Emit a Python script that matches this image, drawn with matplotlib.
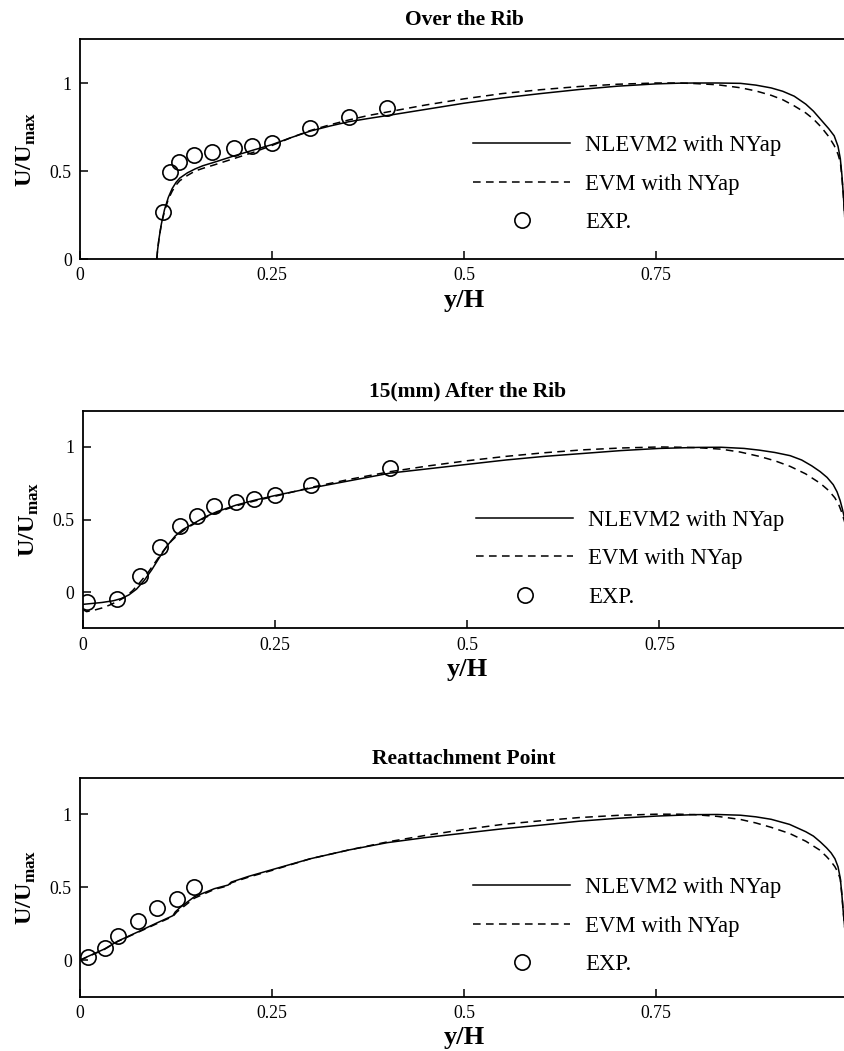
import matplotlib
matplotlib.use("Agg")
import matplotlib.pyplot as plt

plt.rcParams['font.family'] = ['Liberation Serif', 'DejaVu Serif']
plt.rcParams['mathtext.fontset'] = 'custom'
plt.rcParams['mathtext.rm'] = 'Liberation Serif'
plt.rcParams['mathtext.bf'] = 'Liberation Serif:bold'

titles = ["Over the Rib", "15(mm) After the Rib", "Reattachment Point"]
legend_labels = ["NLEVM2 with NYap", "EVM with NYap", "EXP."]
x_ticks = [0, 0.25, 0.5, 0.75]
x_tick_labels = ["0", "0.25", "0.5", "0.75"]
y_ticks = [0, 0.5, 1]
y_tick_labels = ["0", "0.5", "1"]

# panel 1 - over the rib
x1_nl = [0.100, 0.101, 0.103, 0.106, 0.110, 0.115, 0.120, 0.125, 0.130, 0.140, 0.150, 0.160, 0.175, 0.200,
         0.225, 0.250, 0.275, 0.300, 0.325, 0.350, 0.375, 0.400, 0.450, 0.500, 0.550, 0.600, 0.650, 0.700,
         0.750, 0.780, 0.800, 0.830, 0.860, 0.880, 0.900, 0.915, 0.930, 0.945, 0.955, 0.965, 0.975, 0.982,
         0.987, 0.990, 0.992, 0.994, 0.996, 0.998, 1.000]
y1_nl = [0.00, 0.05, 0.12, 0.20, 0.28, 0.35, 0.40, 0.435, 0.46, 0.49, 0.512, 0.53, 0.55, 0.585,
         0.618, 0.65, 0.69, 0.727, 0.755, 0.78, 0.798, 0.815, 0.85, 0.885, 0.915, 0.94, 0.963, 0.982,
         0.995, 0.999, 1.0, 1.0, 0.998, 0.988, 0.972, 0.953, 0.925, 0.88, 0.84, 0.79, 0.74, 0.70,
         0.64, 0.57, 0.48, 0.36, 0.22, 0.10, 0.0]
x1_ev = [0.100, 0.101, 0.103, 0.106, 0.110, 0.115, 0.120, 0.125, 0.130, 0.140, 0.150, 0.160, 0.175, 0.200,
         0.225, 0.250, 0.275, 0.300, 0.325, 0.350, 0.375, 0.400, 0.450, 0.500, 0.550, 0.600, 0.650, 0.700,
         0.750, 0.780, 0.800, 0.830, 0.860, 0.880, 0.900, 0.915, 0.930, 0.945, 0.955, 0.965, 0.975, 0.982,
         0.987, 0.990, 0.992, 0.994, 0.996, 0.998, 1.000]
y1_ev = [0.00, 0.05, 0.12, 0.20, 0.27, 0.34, 0.385, 0.42, 0.445, 0.475, 0.50, 0.515, 0.535, 0.57,
         0.605, 0.645, 0.69, 0.73, 0.762, 0.79, 0.815, 0.835, 0.875, 0.91, 0.94, 0.962, 0.98, 0.993,
         1.0, 1.0, 0.997, 0.99, 0.973, 0.955, 0.93, 0.905, 0.87, 0.83, 0.795, 0.75, 0.695, 0.645,
         0.595, 0.55, 0.47, 0.36, 0.22, 0.10, 0.0]
x1_exp = [0.108, 0.117, 0.129, 0.148, 0.172, 0.200, 0.224, 0.250, 0.300, 0.350, 0.400]
y1_exp = [0.267, 0.492, 0.553, 0.590, 0.607, 0.628, 0.643, 0.661, 0.742, 0.804, 0.859]

# panel 2 - 15mm after the rib
x2_nl = [0.000, 0.010, 0.025, 0.040, 0.050, 0.060, 0.070, 0.080, 0.090, 0.100, 0.110, 0.120, 0.130, 0.140,
         0.150, 0.160, 0.175, 0.200, 0.225, 0.250, 0.300, 0.350, 0.400, 0.450, 0.500, 0.550, 0.600, 0.650,
         0.700, 0.750, 0.800, 0.830, 0.860, 0.880, 0.900, 0.920, 0.935, 0.948, 0.959, 0.968, 0.976, 0.981,
         0.985, 0.988, 0.991, 0.994, 0.997, 1.000]
y2_nl = [-0.085, -0.08, -0.072, -0.06, -0.045, -0.02, 0.02, 0.08, 0.155, 0.24, 0.32, 0.385, 0.43, 0.46,
         0.49, 0.52, 0.555, 0.60, 0.635, 0.665, 0.72, 0.77, 0.82, 0.85, 0.88, 0.91, 0.935, 0.955,
         0.975, 0.99, 0.997, 0.998, 0.99, 0.978, 0.962, 0.94, 0.91, 0.87, 0.83, 0.79, 0.74, 0.69,
         0.63, 0.57, 0.50, 0.37, 0.19, 0.0]
x2_ev = [0.000, 0.005, 0.015, 0.025, 0.035, 0.045, 0.055, 0.065, 0.075, 0.085, 0.095, 0.105, 0.115, 0.125,
         0.135, 0.150, 0.160, 0.175, 0.200, 0.225, 0.250, 0.300, 0.350, 0.400, 0.450, 0.500, 0.550, 0.600,
         0.650, 0.700, 0.750, 0.780, 0.800, 0.830, 0.855, 0.880, 0.900, 0.920, 0.940, 0.959, 0.970, 0.978,
         0.983, 0.987, 0.991, 0.994, 0.997, 1.000]
y2_ev = [-0.12, -0.135, -0.125, -0.11, -0.09, -0.065, -0.035, 0.01, 0.07, 0.135, 0.21, 0.285, 0.35, 0.40,
         0.44, 0.485, 0.515, 0.55, 0.595, 0.63, 0.66, 0.725, 0.78, 0.83, 0.87, 0.905, 0.935, 0.96,
         0.98, 0.993, 1.0, 0.998, 0.995, 0.985, 0.965, 0.935, 0.905, 0.866, 0.815, 0.75, 0.70, 0.65,
         0.605, 0.55, 0.48, 0.37, 0.19, 0.0]
x2_exp = [0.006, 0.045, 0.075, 0.100, 0.126, 0.149, 0.171, 0.199, 0.223, 0.250, 0.297, 0.400]
y2_exp = [-0.068, -0.045, 0.109, 0.311, 0.455, 0.523, 0.595, 0.618, 0.643, 0.666, 0.736, 0.855]

# panel 3 - reattachment point
x3_nl = [0.000, 0.010, 0.032, 0.049, 0.075, 0.100, 0.121, 0.124, 0.130, 0.149, 0.175, 0.193, 0.197, 0.220,
         0.250, 0.300, 0.350, 0.400, 0.450, 0.500, 0.550, 0.600, 0.650, 0.700, 0.750, 0.800, 0.830, 0.860,
         0.880, 0.900, 0.924, 0.945, 0.955, 0.964, 0.972, 0.978, 0.983, 0.987, 0.990, 0.992, 0.994, 0.997,
         1.000]
y3_nl = [0.0, 0.025, 0.077, 0.13, 0.193, 0.255, 0.305, 0.33, 0.36, 0.435, 0.49, 0.515, 0.535, 0.575,
         0.62, 0.695, 0.755, 0.805, 0.84, 0.87, 0.9, 0.925, 0.952, 0.972, 0.987, 0.997, 0.998, 0.993,
         0.982, 0.965, 0.93, 0.88, 0.85, 0.81, 0.77, 0.735, 0.695, 0.64, 0.56, 0.45, 0.32, 0.15,
         0.0]
x3_ev = [0.000, 0.010, 0.032, 0.049, 0.075, 0.100, 0.121, 0.126, 0.132, 0.149, 0.175, 0.193, 0.197, 0.220,
         0.250, 0.300, 0.350, 0.400, 0.450, 0.500, 0.550, 0.600, 0.650, 0.700, 0.750, 0.780, 0.800, 0.830,
         0.860, 0.880, 0.900, 0.924, 0.945, 0.963, 0.972, 0.978, 0.983, 0.987, 0.990, 0.992, 0.994, 0.997,
         1.000]
y3_ev = [0.0, 0.023, 0.075, 0.128, 0.19, 0.25, 0.30, 0.33, 0.355, 0.425, 0.485, 0.51, 0.53, 0.57,
         0.615, 0.695, 0.755, 0.81, 0.855, 0.895, 0.93, 0.955, 0.977, 0.992, 1.0, 1.0, 0.997, 0.985,
         0.964, 0.94, 0.91, 0.868, 0.815, 0.755, 0.71, 0.675, 0.64, 0.60, 0.555, 0.45, 0.32, 0.15,
         0.0]
x3_exp = [0.010, 0.032, 0.049, 0.075, 0.100, 0.126, 0.149]
y3_exp = [0.023, 0.084, 0.168, 0.266, 0.357, 0.418, 0.502]

panels = [
    (x1_nl, y1_nl, x1_ev, y1_ev, x1_exp, y1_exp, (0, 1.25)),
    (x2_nl, y2_nl, x2_ev, y2_ev, x2_exp, y2_exp, (-0.25, 1.25)),
    (x3_nl, y3_nl, x3_ev, y3_ev, x3_exp, y3_exp, (-0.25, 1.25)),
]

W, H = 845, 1051
fig = plt.figure(figsize=(W / 100, H / 100), dpi=100)

# axes boxes in pixels: left, top, bottom, px per unit of x
boxes = [(80, 39, 259, 768), (82.7, 410.7, 628.3, 769), (80, 777.7, 996.7, 768)]
leg_anchor = [0.563, 0.544, 0.546]

for i, (xn, yn, xe, ye, xx, yx, ylim) in enumerate(panels):
    l, t, b, sx = boxes[i]
    ax = fig.add_axes([l / W, 1 - b / H, sx / W, (b - t) / H])
    ax.plot(xn, yn, color='black', lw=1.1, label=legend_labels[0])
    ax.plot(xe, ye, color='black', lw=1.1, ls=(0, (5, 3.5)), label=legend_labels[1])
    ax.plot(xx, yx, ls='none', marker='o', ms=11, mfc='none', mec='black', mew=1.2,
            label=legend_labels[2])
    ax.set_xlim(0, 1)
    ax.set_ylim(*ylim)
    ax.set_xticks(x_ticks)
    ax.set_xticklabels(x_tick_labels)
    ax.set_yticks(y_ticks)
    ax.set_yticklabels(y_tick_labels)
    ax.tick_params(direction='in', length=6, width=1.1, labelsize=12.8, pad=6)
    for s in ax.spines.values():
        s.set_linewidth(1.3)
    ax.set_title(titles[i], fontsize=15.5, fontweight='bold', pad=10)
    ax.set_xlabel('y/H', fontsize=19, fontweight='bold', labelpad=3)
    ax.set_ylabel(r'$\mathbf{U/U}_{\mathbf{max}}$', fontsize=17.5, labelpad=8)
    ax.legend(loc='upper left', bbox_to_anchor=(0.512, leg_anchor[i]), frameon=False,
              fontsize=16.4, handlelength=4.25, handletextpad=0.66, labelspacing=0.77,
              borderpad=0, borderaxespad=0)

fig.savefig('out.png', dpi=100)
